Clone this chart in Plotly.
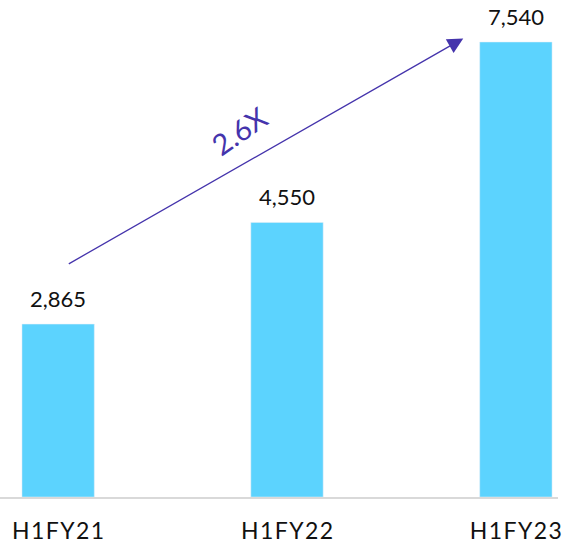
import plotly.graph_objects as go

periods = ["H1FY21", "H1FY22", "H1FY23"]
values = [2865, 4550, 7540]
growth_label = "2.6X"

# letter-spaced tick labels (hair spaces between characters)
tick_text = ["\u200a".join(p) for p in periods]
xs = list(range(len(periods)))

fig = go.Figure()

fig.add_trace(go.Bar(
    x=xs,
    y=values,
    marker_color="#5CD3FE",
    showlegend=False,
))

# value labels above bars
for x, v in zip(xs, values):
    fig.add_annotation(
        x=x, y=v, xref="x", yref="y",
        text=f"{v:,}", showarrow=False,
        yanchor="bottom", yshift=10,
        font=dict(size=22, color="#111111"),
    )

# growth arrow + label
fig.add_annotation(
    x=1.77, y=7600, ax=0.04, ay=3850,
    xref="x", yref="y", axref="x", ayref="y",
    text="", showarrow=True,
    arrowhead=2, arrowsize=2.4, arrowwidth=1.3, arrowcolor="#4534AC",
)
fig.add_annotation(
    x=0.79, y=6080, xref="x", yref="y",
    text=growth_label, showarrow=False, textangle=-35,
    font=dict(size=29, color="#4534AC"),
)

fig.update_layout(
    width=562, height=544,
    margin=dict(l=0, r=0, t=0, b=47),
    plot_bgcolor="white", paper_bgcolor="white",
    bargap=0.684,
    font=dict(family="Lato, Open Sans, sans-serif"),
    xaxis=dict(
        range=[-0.254, 2.184],
        tickvals=xs,
        ticktext=tick_text,
        tickfont=dict(size=23, color="#111111"),
        ticklabeloverflow="allow",
        ticklabelstandoff=12,
        showgrid=False, zeroline=False,
        showline=True, linecolor="#D9D9D9", linewidth=2,
        ticks="", ticklen=0,
    ),
    yaxis=dict(
        range=[0, 8236],
        visible=False, showgrid=False, zeroline=False,
    ),
)

fig.write_html(
    "out.html",
    config={"displayModeBar": False},
    post_script="document.body.style.margin='0';document.body.style.overflow='hidden';",
)
